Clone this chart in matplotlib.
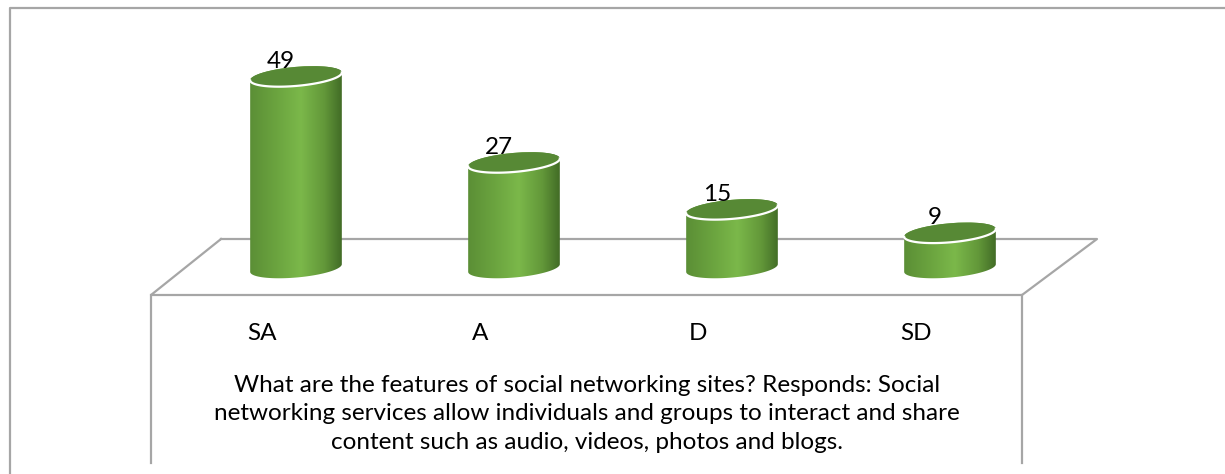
import numpy as np
import matplotlib
matplotlib.use("Agg")
import matplotlib.pyplot as plt
from matplotlib.patches import Ellipse, Polygon
from matplotlib.lines import Line2D
from matplotlib.transforms import IdentityTransform
from matplotlib.colors import LinearSegmentedColormap

plt.rcParams["font.family"] = ["Lato", "DejaVu Sans"]

# data
categories = ["SA", "A", "D", "SD"]
values = [49, 27, 15, 9]
axis_title = ("What are the features of social networking sites? Responds: Social\n"
              "networking services allow individuals and groups to interact and share\n"
              "content such as audio, videos, photos and blogs.")

W, H = 1225, 474
fig = plt.figure(figsize=(W / 100, H / 100), dpi=100)


def fx(x):
    return x / W


def fy(y):
    return 1 - y / H


GRAY = "#a6a6a6"
FS = 17.5


def fig_line(xs, ys, **kw):
    fig.add_artist(Line2D([fx(x) for x in xs], [fy(y) for y in ys],
                          transform=fig.transFigure, color=GRAY, lw=1.6, **kw))


# outer chart border (clipped on right / bottom)
fig_line([10, 10, W + 5], [H + 5, 8, 8])

# 3D floor
fig_line([221, 1097, 1022, 151, 221], [239, 239, 295, 295, 239], zorder=0)
fig_line([151, 151], [295, 463])
fig_line([1022, 1022], [295, 463])

# plot area: base of bars at y=268 px, 3.91 px per unit
base_px, scale = 268, 3.91
ymin, ymax = -8, 60
ax = fig.add_axes([fx(187), fy(base_px - ymin * scale), fx(872),
                   (ymax - ymin) * scale / H])
ax.set_xlim(-0.5, len(categories) - 0.5)
ax.set_ylim(ymin, ymax)
ax.set_autoscale_on(False)
ax.axis("off")
ax.patch.set_alpha(0)

cmap = LinearSegmentedColormap.from_list(
    "cyl", [(0.0, "#5a8d35"), (0.3, "#6ba43f"), (0.55, "#7bb84a"),
            (0.8, "#629739"), (1.0, "#3e6724")])
grad = np.linspace(0, 1, 256).reshape(1, -1)

a, b, ang = 46, 9.5, 5.0
th = np.deg2rad(ang)
rot = np.array([[np.cos(th), -np.sin(th)], [np.sin(th), np.cos(th)]])


def arc(c, t0, t1, n=60):
    t = np.linspace(t0, t1, n)
    pts = np.stack([a * np.cos(t), b * np.sin(t)])
    return (rot @ pts).T + c


inv = ax.transData.inverted()
for i, v in enumerate(values):
    bc = ax.transData.transform((i, 0))
    tc = ax.transData.transform((i, v))
    body = np.vstack([arc(bc, np.pi, 2 * np.pi), arc(tc, 0, np.pi)])
    poly = Polygon(body, closed=True, transform=IdentityTransform(),
                   facecolor="none", edgecolor="none")
    ax.add_patch(poly)
    (x0, y0) = inv.transform((bc[0] - a - 2, bc[1] - b - 6))
    (x1, y1) = inv.transform((bc[0] + a + 2, tc[1] + b + 6))
    im = ax.imshow(grad, cmap=cmap, extent=(x0, x1, y0, y1), aspect="auto",
                   interpolation="bilinear", zorder=2)
    im.set_clip_path(poly)
    top = Ellipse(tc, 2 * a, 2 * b, angle=ang, transform=IdentityTransform(),
                  facecolor="#578935", edgecolor="none", zorder=3)
    ax.add_patch(top)
    front = arc(tc, np.pi, 2 * np.pi)
    ax.add_line(Line2D(front[:, 0], front[:, 1], transform=IdentityTransform(),
                       color="white", lw=1.6, zorder=4))
    ax.annotate(str(v), (i, v), xytext=(-15, 15), textcoords="offset pixels",
                ha="center", va="center", fontsize=FS, color="black", zorder=5)
    ax.annotate(categories[i], (i, 0), xytext=(-34, -65), textcoords="offset pixels",
                ha="center", va="center", fontsize=FS, color="black",
                annotation_clip=False)

fig.text(fx(587), fy(414), axis_title, ha="center", va="center", ma="center",
         fontsize=FS, linespacing=1.47, color="black")

fig.savefig("out.png", dpi=100)
